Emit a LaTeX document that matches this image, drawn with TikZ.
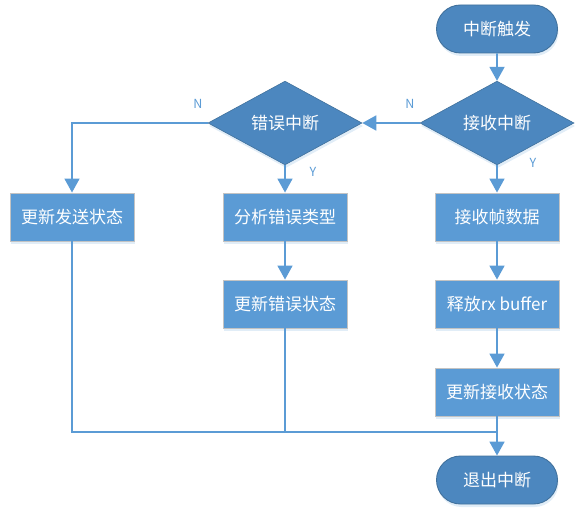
\documentclass[tikz,border=0pt]{standalone}
\usepackage{fontspec}
\newfontfamily\cjk{Noto Sans CJK SC}
\usetikzlibrary{arrows.meta,shapes.geometric,shapes.misc,shadows}
\definecolor{flowBlue}{HTML}{5B9BD5}
\definecolor{flowDark}{HTML}{4C87BF}
\definecolor{flowEdge}{HTML}{41719C}
\definecolor{flowGray}{HTML}{C3C3C3}
\tikzset{
  flow text/.style={text=white, font=\cjk\fontsize{17}{20}\selectfont},
  flow shadow/.style={drop shadow={shadow xshift=1pt, shadow yshift=-3pt, opacity=.18, fill=flowBlue}},
  flow box/.style={
    flow text, flow shadow,
    rectangle, fill=flowBlue, draw=flowGray, line width=.9pt,
    minimum width=124pt, minimum height=48pt, inner sep=2pt
  },
  flow terminal/.style={
    flow text, flow shadow,
    rounded rectangle, fill=flowDark, draw=flowEdge, line width=.9pt,
    minimum width=125pt, minimum height=48pt, inner sep=2pt
  },
  flow choice/.style={
    flow text, flow shadow,
    diamond, fill=flowDark, draw=flowEdge, line width=.6pt,
    minimum width=154pt, minimum height=62pt, inner sep=0pt
  },
  flow line/.style={draw=flowBlue, line width=1.8pt},
  flow arrow/.style={flow line, -{Triangle[length=14pt,width=15pt]}},
  flow tag/.style={text=flowBlue, font=\cjk\fontsize{12.5}{14}\selectfont}
}

\begin{document}
\begin{tikzpicture}[x=1pt,y=-1pt]
  \useasboundingbox (0,0) rectangle (583,532);

  \node[flow terminal] (start) at (497,29) {中断触发};
  \node[flow choice] (recv) at (497,123) {接收中断};
  \node[flow choice] (err) at (285,123) {错误中断};
  \node[flow box] (sendupd) at (72,217) {更新发送状态};
  \node[flow box] (analyze) at (285,217) {分析错误类型};
  \node[flow box] (rxframe) at (497,217) {接收帧数据};
  \node[flow box] (errupd) at (285,304) {更新错误状态};
  \node[flow box] (rxfree) at (497,304) {释放rx buffer};
  \node[flow box] (rxupd) at (497,392) {更新接收状态};
  \node[flow terminal] (exit) at (497,480) {退出中断};
  \coordinate (join) at (497,432);

  \draw[flow arrow] (start) -- (recv);
  \draw[flow arrow] (recv) -- (err);
  \draw[flow arrow] (err.west) -| (sendupd.north);
  \draw[flow arrow] (err) -- (analyze);
  \draw[flow arrow] (recv) -- (rxframe);
  \draw[flow arrow] (analyze) -- (errupd);
  \draw[flow arrow] (rxframe) -- (rxfree);
  \draw[flow arrow] (rxfree) -- (rxupd);
  \draw[flow arrow] (rxupd) -- (exit);
  \draw[flow line] (sendupd.south) |- (join);
  \draw[flow line] (errupd.south) -- (errupd.south |- join);

  \node[flow tag] (recvno) at (410,104) {N};
  \node[flow tag] (errno) at (198,104) {N};
  \node[flow tag] (erryes) at (313,172) {Y};
  \node[flow tag] (recvyes) at (533,163) {Y};
\end{tikzpicture}
\end{document}
